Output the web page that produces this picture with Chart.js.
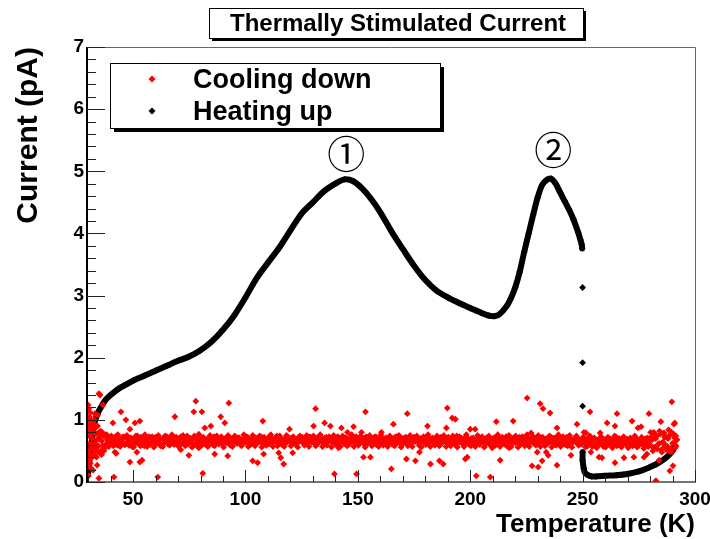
<!DOCTYPE html>
<html>
<head>
<meta charset="utf-8">
<script src="https://cdn.jsdelivr.net/npm/chart.js@4.4.0/dist/chart.umd.min.js"></script>
<style>
  body { margin: 0; background: #fff; }
  canvas { display: block; }
</style>
</head>
<body>
<canvas id="tscChart" width="710" height="539"></canvas>
<script>
const FONT = '"Liberation Sans", Arial, Helvetica, sans-serif';

// heating up: temperature (K) / current (pA)
const heatT = [30, 30.5, 31, 31.5, 32, 32.5, 33, 34, 35, 36, 37, 38, 40, 42, 44, 46, 48, 50, 55, 60,
  65, 70, 75, 80, 85, 90, 95, 100, 105, 110, 115, 120, 125, 130, 135, 140, 144, 148, 152, 156,
  160, 165, 170, 175, 180, 185, 190, 195, 200, 205, 208, 211, 213, 216, 218, 220, 222, 224, 226, 228,
  230, 232, 234, 236, 238, 240, 242, 244, 246, 248, 249, 249.6, 249.8, 250, 250, 250, 250, 250, 250.5, 251,
  252, 254, 256, 260, 265, 270, 275, 280, 283, 286, 288, 290, 291];
const heatI = [0.15, 0.32, 0.48, 0.62, 0.76, 0.88, 0.98, 1.08, 1.16, 1.22, 1.28, 1.33, 1.40, 1.46, 1.51, 1.55, 1.59, 1.63, 1.71, 1.79,
  1.87, 1.95, 2.02, 2.12, 2.26, 2.45, 2.68, 2.97, 3.28, 3.53, 3.77, 4.05, 4.32, 4.50, 4.68, 4.80, 4.87, 4.84, 4.72, 4.55,
  4.34, 4.03, 3.75, 3.48, 3.25, 3.08, 2.97, 2.88, 2.80, 2.72, 2.68, 2.67, 2.70, 2.82, 2.95, 3.13, 3.38, 3.70, 4.00, 4.30,
  4.58, 4.78, 4.86, 4.88, 4.80, 4.66, 4.52, 4.38, 4.22, 4.02, 3.90, 3.82, 3.76, 3.13, 1.92, 1.22, 0.48, 0.35, 0.22, 0.15,
  0.12, 0.09, 0.09, 0.10, 0.11, 0.13, 0.17, 0.24, 0.29, 0.36, 0.42, 0.50, 0.58];

// cooling down: main band, one reading per kelvin from 30 K (A), 30.25 K (C) and 30.5 K (B)
const coolBandStartT = 30;
const coolBandA = [
  0.95, 0.52, 0.86, 0.62, 0.78, 0.70, 0.66, 0.74, 0.61, 0.69,
  0.64, 0.72, 0.67, 0.59, 0.70, 0.66, 0.73, 0.62, 0.68, 0.71,
  0.60, 0.67, 0.74, 0.65, 0.69, 0.58, 0.66, 0.71, 0.63, 0.68,
  0.72, 0.64, 0.69, 0.61, 0.67, 0.73, 0.65, 0.70, 0.62, 0.68,
  0.66, 0.71, 0.63, 0.69, 0.74, 0.64, 0.67, 0.60, 0.70, 0.66,
  0.72, 0.65, 0.68, 0.62, 0.70, 0.67, 0.73, 0.64, 0.69, 0.66,
  0.61, 0.70, 0.67, 0.72, 0.65, 0.68, 0.63, 0.71, 0.66, 0.69,
  0.64, 0.72, 0.67, 0.70, 0.62, 0.68, 0.65, 0.73, 0.66, 0.69,
  0.71, 0.63, 0.68, 0.66, 0.74, 0.64, 0.69, 0.61, 0.67, 0.72,
  0.65, 0.70, 0.63, 0.68, 0.73, 0.66, 0.62, 0.70, 0.67, 0.72,
  0.68, 0.64, 0.71, 0.66, 0.69, 0.63, 0.72, 0.67, 0.65, 0.70,
  0.66, 0.73, 0.64, 0.69, 0.62, 0.70, 0.67, 0.74, 0.65, 0.68,
  0.71, 0.64, 0.68, 0.66, 0.72, 0.62, 0.69, 0.67, 0.73, 0.65,
  0.68, 0.70, 0.63, 0.67, 0.72, 0.66, 0.69, 0.61, 0.70, 0.67,
  0.64, 0.71, 0.66, 0.69, 0.63, 0.72, 0.67, 0.65, 0.70, 0.68,
  0.66, 0.73, 0.64, 0.68, 0.62, 0.70, 0.67, 0.72, 0.65, 0.69,
  0.71, 0.63, 0.68, 0.66, 0.74, 0.64, 0.69, 0.62, 0.67, 0.70,
  0.65, 0.69, 0.62, 0.68, 0.72, 0.64, 0.67, 0.70, 0.63, 0.68,
  0.66, 0.71, 0.64, 0.69, 0.61, 0.68, 0.73, 0.65, 0.67, 0.70,
  0.63, 0.68, 0.72, 0.65, 0.69, 0.62, 0.70, 0.66, 0.73, 0.64,
  0.68, 0.66, 0.71, 0.63, 0.69, 0.65, 0.72, 0.61, 0.67, 0.70,
  0.64, 0.69, 0.66, 0.72, 0.62, 0.68, 0.65, 0.71, 0.63, 0.67,
  0.70, 0.62, 0.68, 0.65, 0.71, 0.60, 0.67, 0.64, 0.69, 0.62,
  0.66, 0.70, 0.61, 0.67, 0.64, 0.72, 0.60, 0.68, 0.63, 0.66,
  0.69, 0.61, 0.66, 0.63, 0.70, 0.59, 0.67, 0.62, 0.65, 0.71,
  0.60, 0.68, 0.56, 0.74, 0.62, 0.52, 0.78, 0.58, 0.70, 0.54,
  0.76, 0.60, 0.68];
const coolBandB = [
  0.42, 0.98, 0.58, 0.90, 0.48, 0.82, 0.58, 0.76, 0.68, 0.63,
  0.70, 0.61, 0.74, 0.66, 0.62, 0.71, 0.60, 0.69, 0.65, 0.57,
  0.70, 0.63, 0.61, 0.72, 0.62, 0.70, 0.64, 0.60, 0.73, 0.65,
  0.62, 0.70, 0.60, 0.71, 0.66, 0.61, 0.71, 0.63, 0.72, 0.64,
  0.70, 0.62, 0.72, 0.64, 0.61, 0.70, 0.62, 0.71, 0.64, 0.72,
  0.62, 0.69, 0.63, 0.71, 0.64, 0.60, 0.68, 0.72, 0.62, 0.70,
  0.69, 0.63, 0.72, 0.62, 0.70, 0.64, 0.71, 0.62, 0.68, 0.64,
  0.70, 0.63, 0.61, 0.66, 0.71, 0.63, 0.70, 0.62, 0.71, 0.64,
  0.62, 0.70, 0.64, 0.72, 0.63, 0.69, 0.61, 0.70, 0.64, 0.66,
  0.71, 0.62, 0.69, 0.64, 0.66, 0.70, 0.68, 0.63, 0.72, 0.64,
  0.63, 0.70, 0.65, 0.72, 0.62, 0.69, 0.64, 0.71, 0.68, 0.62,
  0.70, 0.63, 0.69, 0.64, 0.71, 0.65, 0.62, 0.68, 0.71, 0.63,
  0.66, 0.70, 0.62, 0.72, 0.64, 0.69, 0.63, 0.71, 0.66, 0.70,
  0.63, 0.66, 0.71, 0.62, 0.69, 0.64, 0.72, 0.66, 0.63, 0.71,
  0.70, 0.63, 0.72, 0.62, 0.69, 0.65, 0.70, 0.62, 0.67, 0.63,
  0.71, 0.63, 0.69, 0.64, 0.71, 0.66, 0.62, 0.68, 0.72, 0.63,
  0.65, 0.69, 0.63, 0.71, 0.64, 0.68, 0.62, 0.71, 0.64, 0.66,
  0.70, 0.63, 0.67, 0.64, 0.66, 0.70, 0.62, 0.65, 0.70, 0.62,
  0.71, 0.64, 0.69, 0.63, 0.70, 0.65, 0.62, 0.70, 0.63, 0.66,
  0.70, 0.63, 0.65, 0.71, 0.62, 0.68, 0.64, 0.71, 0.62, 0.69,
  0.63, 0.71, 0.64, 0.69, 0.62, 0.70, 0.63, 0.68, 0.72, 0.62,
  0.70, 0.62, 0.71, 0.63, 0.69, 0.64, 0.70, 0.62, 0.68, 0.61,
  0.64, 0.69, 0.61, 0.70, 0.63, 0.67, 0.62, 0.70, 0.60, 0.68,
  0.62, 0.65, 0.69, 0.60, 0.70, 0.63, 0.67, 0.61, 0.69, 0.62,
  0.64, 0.68, 0.60, 0.70, 0.62, 0.66, 0.61, 0.69, 0.60, 0.66,
  0.72, 0.55, 0.70, 0.60, 0.77, 0.64, 0.57, 0.72, 0.50, 0.80,
  0.62, 0.74];
const coolBandC = [
  1.02, 0.38, 0.92, 0.55, 1.08, 0.47, 0.80, 0.54, 0.76, 0.57,
  0.74, 0.58, 0.61, 0.76, 0.57, 0.72, 0.60, 0.75, 0.59, 0.70,
  0.56, 0.74, 0.71, 0.58, 0.60, 0.76, 0.57, 0.73, 0.69, 0.56,
  0.62, 0.75, 0.58, 0.57, 0.74, 0.71, 0.59, 0.76, 0.60, 0.72,
  0.57, 0.73, 0.75, 0.58, 0.62, 0.70, 0.56, 0.74, 0.59, 0.77,
  0.58, 0.72, 0.60, 0.57, 0.75, 0.69, 0.58, 0.74, 0.61, 0.73,
  0.56, 0.70, 0.75, 0.59, 0.57, 0.74, 0.62, 0.71, 0.58, 0.76,
  0.73, 0.57, 0.60, 0.75, 0.58, 0.70, 0.74, 0.56, 0.72, 0.59,
  0.61, 0.76, 0.57, 0.71, 0.58, 0.74, 0.60, 0.57, 0.75, 0.70,
  0.58, 0.73, 0.61, 0.56, 0.74, 0.72, 0.59, 0.75, 0.57, 0.70,
  0.74, 0.58, 0.62, 0.76, 0.57, 0.71, 0.59, 0.73, 0.56, 0.75,
  0.60, 0.72, 0.57, 0.74, 0.70, 0.58, 0.61, 0.76, 0.57, 0.73,
  0.59, 0.74, 0.71, 0.56, 0.62, 0.75, 0.58, 0.72, 0.60, 0.57,
  0.76, 0.59, 0.70, 0.57, 0.74, 0.61, 0.58, 0.73, 0.75, 0.56,
  0.62, 0.72, 0.58, 0.75, 0.57, 0.70, 0.74, 0.59, 0.56, 0.73,
  0.60, 0.76, 0.57, 0.71, 0.59, 0.74, 0.58, 0.62, 0.75, 0.57,
  0.72, 0.58, 0.74, 0.60, 0.56, 0.73, 0.70, 0.57, 0.76, 0.61,
  0.58, 0.71, 0.57, 0.75, 0.60, 0.73, 0.56, 0.62, 0.74, 0.58,
  0.70, 0.59, 0.76, 0.57, 0.72, 0.61, 0.58, 0.75, 0.57, 0.71,
  0.74, 0.56, 0.60, 0.73, 0.58, 0.76, 0.57, 0.70, 0.62, 0.59,
  0.75, 0.57, 0.72, 0.58, 0.61, 0.74, 0.56, 0.71, 0.59, 0.76,
  0.57, 0.73, 0.60, 0.58, 0.75, 0.56, 0.70, 0.74, 0.59, 0.62,
  0.72, 0.56, 0.58, 0.74, 0.57, 0.71, 0.55, 0.60, 0.73, 0.57,
  0.56, 0.72, 0.59, 0.55, 0.74, 0.58, 0.70, 0.56, 0.73, 0.60,
  0.55, 0.71, 0.58, 0.74, 0.56, 0.60, 0.72, 0.54, 0.70, 0.57,
  0.80, 0.50, 0.76, 0.53, 0.82, 0.48, 0.79, 0.52, 0.84, 0.50,
  0.78, 0.55];

// cooling down: scattered readings away from the band [T, I]
const coolScatter = [
  [30, 1.24], [30.3, 1.18], [30.6, 1.05], [30.2, 0.10], [30.5, 0.27], [31, 0.30], [31.5, 0.40], [32.2, 0.19],
  [34, 0.27], [33, 1.10], [31.8, 0.90], [32.5, 0.45], [30.8, 0.82], [33.5, 0.52], [35.3, 1.40], [36, 0.44], [37, 0.50],
  [30.1, 0.60], [30.4, 0.75], [30.7, 0.45], [31.2, 0.95], [31.6, 0.70], [32, 0.55], [32.4, 0.85], [32.8, 0.62],
  [33.2, 0.78], [33.7, 0.40], [34.2, 0.90], [34.6, 0.58], [35, 0.75], [35.6, 0.50], [30.2, 0.90], [30.9, 1.12],
  [31.3, 0.22], [30.1, 0.45], [32.7, 1.00], [33.9, 0.68], [30.4, 0.35], [31.1, 0.62], [31.9, 0.80], [33.1, 0.92],
  [34.8, 1.42], [36.6, 1.24], [44.6, 1.13], [46.8, 1.00], [50.8, 0.95], [53, 0.98], [48.6, 0.85], [41, 0.95],
  [68.6, 1.05], [77.9, 1.30], [77, 1.13], [80.6, 1.13], [81.9, 0.87], [84.6, 0.90], [89, 1.05], [90.8, 0.95],
  [92.6, 1.27], [107.7, 0.98], [131.2, 1.18], [130.3, 0.90], [135.2, 0.95], [137.8, 0.90], [142.7, 0.87], [145.4, 0.80],
  [41.9, 0.48], [42.5, 0.46], [48.6, 0.32], [51.7, 0.48], [53, 0.32], [54, 0.35], [71.2, 0.52], [74.8, 0.43],
  [79.2, 0.55], [86.3, 0.45], [92.1, 0.42], [103.2, 0.34], [105.4, 0.31], [108.1, 0.45], [114.8, 0.47], [115.7, 0.39],
  [117, 0.29], [121, 0.47], [34.8, 0.06], [41.5, 0.08], [61, 0.08], [81, 0.14], [139.6, 0.13], [149.4, 0.13],
  [119.6, 0.85], [141.4, 0.55], [153.4, 1.13], [148.1, 0.89], [151.6, 0.80], [152.5, 0.40], [155.6, 0.40], [160.5, 0.80],
  [165.8, 0.93], [172, 1.10], [164.9, 0.21], [171.6, 0.37], [175.6, 0.34], [177.4, 0.48], [181, 0.90], [182.3, 0.29],
  [186.3, 0.34], [188, 0.29], [189.4, 0.87], [189.8, 1.19], [192, 1.03], [193.4, 1.01], [197.8, 0.37], [198.7, 0.40],
  [200, 0.85], [202.2, 0.85], [202.7, 0.10], [208.9, 0.08], [211.6, 0.97], [213.3, 0.35], [209.8, 0.55], [217.3, 0.55],
  [219.1, 0.98], [225.3, 1.35], [227.1, 0.79], [227.5, 0.26], [230.2, 0.24], [231.1, 1.26], [232.4, 1.18], [235.5, 1.11],
  [229.8, 0.48], [232, 0.34], [233.8, 0.48], [234.7, 0.43], [238.6, 0.87], [238.6, 0.27], [247.5, 0.93], [251.5, 0.79],
  [253.7, 0.48], [253.3, 1.13], [257.8, 0.79], [260.9, 0.95], [264.4, 0.90], [265.3, 1.10], [272, 0.98], [276, 0.89],
  [279.5, 1.10], [281.7, 0.80], [284.8, 0.97], [289.7, 1.29], [290.6, 0.93], [291, 0.95], [244.8, 0.43], [257.3, 0.40],
  [258.6, 0.39], [264.4, 0.31], [268.4, 0.39], [272.8, 0.40], [277.3, 0.40], [278.6, 0.45], [284, 0.35], [282.6, 0.02],
  [288.8, 0.18], [290.2, 0.26], [288, 0.52], [250.6, 0.80], [274.6, 0.87], [286.5, 0.72], [287.5, 0.58], [289, 0.76],
  [290, 0.62], [291.2, 0.70], [291.6, 0.58], [285.8, 0.64], [289.5, 0.48]
];

// peak markers above the two current maxima
const peakLabels = ['\u2460', '\u2461'];
const peakT = [144, 236];
const peakI = [4.87, 4.88];
const peakLift = [21, 25];

const coolPoints = [];
coolBandA.forEach((v, i) => coolPoints.push({ x: coolBandStartT + i, y: v }));
coolBandC.forEach((v, i) => coolPoints.push({ x: coolBandStartT + 0.25 + i, y: v }));
coolBandB.forEach((v, i) => coolPoints.push({ x: coolBandStartT + 0.5 + i, y: v }));
coolScatter.forEach(p => coolPoints.push({ x: p[0], y: p[1] }));

const heatPoints = heatT.map((t, i) => ({ x: t, y: heatI[i] }));

function diamond(ctx, x, y, r) {
    ctx.beginPath();
    ctx.moveTo(x, y - r);
    ctx.lineTo(x + r, y);
    ctx.lineTo(x, y + r);
    ctx.lineTo(x - r, y);
    ctx.closePath();
    ctx.fill();
}

// shadowed box, ROOT style
function shadowBox(ctx, x, y, w, h, sh) {
    ctx.fillStyle = '#000';
    ctx.fillRect(x + sh, y + sh, w, h);
    ctx.fillStyle = '#fff';
    ctx.fillRect(x, y, w, h);
    ctx.strokeStyle = '#000';
    ctx.lineWidth = 1;
    ctx.strokeRect(x + 0.5, y + 0.5, w, h);
}

const tscDecor = {
    id: 'tscDecor',
    afterDatasetsDraw(chart) {
        const ctx = chart.ctx;
        const a = chart.chartArea;
        const xs = chart.scales.x;
        const ys = chart.scales.y;
        ctx.save();

        // frame
        ctx.strokeStyle = '#666';
        ctx.lineWidth = 1;
        ctx.beginPath();
        ctx.moveTo(a.left, a.top + 0.5);
        ctx.lineTo(a.right + 0.5, a.top + 0.5);
        ctx.lineTo(a.right + 0.5, a.bottom);
        ctx.stroke();
        ctx.strokeStyle = '#444';
        ctx.lineWidth = 1.5;
        ctx.beginPath();
        ctx.moveTo(a.left, a.bottom);
        ctx.lineTo(a.right + 1, a.bottom);
        ctx.stroke();
        ctx.strokeStyle = '#000';
        ctx.lineWidth = 2;
        ctx.beginPath();
        ctx.moveTo(a.left, a.top);
        ctx.lineTo(a.left, a.bottom + 1);
        ctx.stroke();

        // ticks pointing into the frame
        ctx.strokeStyle = '#222';
        ctx.lineWidth = 1;
        ctx.beginPath();
        for (let t = 30; t <= 300; t += 10) {
            const px = Math.round(xs.getPixelForValue(t)) + 0.5;
            const len = t % 50 === 0 ? 12 : 6;
            ctx.moveTo(px, a.bottom);
            ctx.lineTo(px, a.bottom - len);
        }
        for (let k = 0; k <= 35; k++) {
            const py = Math.round(ys.getPixelForValue(k * 0.2)) + 0.5;
            const len = k % 5 === 0 ? 18 : 9;
            ctx.moveTo(a.left, py);
            ctx.lineTo(a.left + len, py);
        }
        ctx.stroke();

        // title box
        shadowBox(ctx, 209, 8, 374, 30, 3);
        ctx.fillStyle = '#000';
        ctx.font = 'bold 24px ' + FONT;
        ctx.textAlign = 'center';
        ctx.textBaseline = 'middle';
        ctx.fillText('Thermally Stimulated Current', 398, 24);

        // legend box
        shadowBox(ctx, 110, 63, 330, 65, 4);
        ctx.font = 'bold 27px ' + FONT;
        ctx.textAlign = 'left';
        ctx.textBaseline = 'alphabetic';
        const rows = [79, 111];
        chart.data.datasets.forEach((ds, i) => {
            ctx.fillStyle = ds.backgroundColor;
            diamond(ctx, 152, rows[i], 3.5);
            ctx.fillStyle = '#000';
            ctx.fillText(ds.label, 193, rows[i] + 9);
        });

        // circled peak numbers
        ctx.font = '38px "DejaVu Serif", "Noto Sans CJK JP", serif';
        ctx.textAlign = 'center';
        ctx.textBaseline = 'middle';
        ctx.fillStyle = '#000';
        peakLabels.forEach((lab, i) => {
            ctx.fillText(lab, xs.getPixelForValue(peakT[i]) + 2, ys.getPixelForValue(peakI[i]) - peakLift[i]);
        });

        ctx.restore();
    }
};

new Chart(document.getElementById('tscChart'), {
    type: 'scatter',
    data: {
        datasets: [{
            label: 'Cooling down',
            data: coolPoints,
            backgroundColor: '#ff0000',
            pointStyle: 'rectRot',
            pointRadius: 3.4,
            pointBorderWidth: 0
        }, {
            label: 'Heating up',
            data: heatPoints,
            showLine: true,
            tension: 0.3,
            borderColor: '#000',
            backgroundColor: '#000',
            borderWidth: 6,
            borderJoinStyle: 'round',
            borderCapStyle: 'round',
            pointStyle: 'rectRot',
            pointRadius: 3.4,
            pointBorderWidth: 0,
            // no line across the vertical jump where the heater stops
            segment: {
                borderColor: c => (Math.abs(c.p1.parsed.x - c.p0.parsed.x) < 0.6 &&
                    Math.abs(c.p1.parsed.y - c.p0.parsed.y) > 0.3) ? 'rgba(0,0,0,0)' : '#000'
            }
        }]
    },
    options: {
        responsive: false,
        animation: false,
        devicePixelRatio: 1,
        layout: { padding: { top: 47, right: 15, left: 0, bottom: 0 } },
        plugins: {
            legend: { display: false },
            tooltip: { enabled: false },
            title: { display: false }
        },
        scales: {
            x: {
                type: 'linear',
                min: 29.5,
                max: 300,
                grid: { display: false, drawTicks: false, tickLength: 0 },
                border: { display: false },
                ticks: {
                    stepSize: 50,
                    includeBounds: false,
                    maxRotation: 0,
                    padding: 6,
                    color: '#000',
                    font: { family: FONT, size: 19, weight: 'bold' }
                },
                title: {
                    display: true,
                    text: 'Temperature (K)',
                    align: 'end',
                    color: '#000',
                    padding: { top: 0, bottom: 1 },
                    font: { family: FONT, size: 26, weight: 'bold', lineHeight: 1 }
                },
                afterFit(s) {
                    s.height = 57;
                    s.paddingLeft = 0;
                    s.paddingRight = 0;
                }
            },
            y: {
                min: 0,
                max: 7,
                grid: { display: false, drawTicks: false, tickLength: 0 },
                border: { display: false },
                ticks: {
                    stepSize: 1,
                    padding: 3,
                    color: '#000',
                    font: { family: FONT, size: 19, weight: 'bold' }
                },
                title: {
                    display: true,
                    text: 'Current (pA)',
                    align: 'end',
                    color: '#000',
                    padding: { top: 14, bottom: 0 },
                    font: { family: FONT, size: 30, weight: 'bold', lineHeight: 1 }
                },
                afterFit(s) {
                    s.width = 87;
                    s.paddingTop = 0;
                    s.paddingBottom = 0;
                }
            }
        }
    },
    plugins: [tscDecor]
});
</script>
</body>
</html>
